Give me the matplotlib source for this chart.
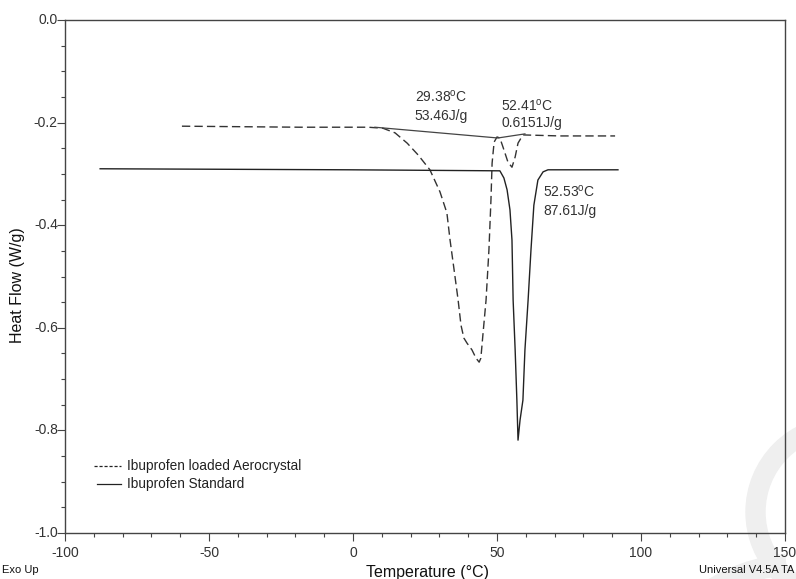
import matplotlib
matplotlib.use("Agg")
import matplotlib.pyplot as plt
from matplotlib.patches import Wedge
from matplotlib.ticker import MultipleLocator

# Ibuprofen loaded Aerocrystal (dashed)
aero_T = [-59.4, -18.4, 5.2, 10.4, 14.6, 18.8, 22.6, 26.7, 30.2, 32.6, 33.7, 35.1, 36.5,
          37.5, 38.5, 39.6, 41.3, 42.7, 43.8, 44.4, 45.1, 46.2, 47.2, 47.9, 48.3, 49.0,
          50.0, 51.0, 52.1, 53.8, 55.2, 56.3, 57.3, 59.0, 71.9, 91.0]
aero_HF = [-0.207, -0.209, -0.209, -0.211, -0.220, -0.240, -0.263, -0.292, -0.335, -0.376,
           -0.429, -0.487, -0.546, -0.595, -0.620, -0.630, -0.643, -0.659, -0.667, -0.659,
           -0.614, -0.546, -0.448, -0.351, -0.279, -0.238, -0.228, -0.230, -0.248, -0.277,
           -0.287, -0.267, -0.240, -0.224, -0.226, -0.226]

# Ibuprofen Standard (solid)
std_T = [-87.8, -1.0, 51.0, 52.4, 53.5, 54.5, 55.2, 55.6, 56.3, 56.9, 57.3, 58.0, 59.0,
         59.7, 60.8, 61.8, 62.8, 64.2, 66.0, 67.7, 92.0]
std_HF = [-0.290, -0.292, -0.294, -0.308, -0.331, -0.370, -0.429, -0.546, -0.643, -0.741,
          -0.819, -0.780, -0.741, -0.643, -0.546, -0.448, -0.361, -0.312, -0.296, -0.292,
          -0.292]

# integration baselines
base_T = [7.6, 50.3, 59.7]
base_HF = [-0.209, -0.230, -0.222]

annotations = [
    (21.5, -0.150, "29.38$^{\\mathregular{o}}$C"),
    (21.5, -0.187, "53.46J/g"),
    (51.5, -0.166, "52.41$^{\\mathregular{o}}$C"),
    (51.5, -0.201, "0.6151J/g"),
    (66.0, -0.334, "52.53$^{\\mathregular{o}}$C"),
    (66.0, -0.373, "87.61J/g"),
]

plt.rcParams['font.family'] = ['Liberation Sans', 'DejaVu Sans']

fig = plt.figure(figsize=(7.96, 5.79), dpi=100)
H = 579

# faint watermark rings (pixel coords, origin bottom-left), behind everything
fig.patches.append(Wedge((842, H - 512), 96, 90, 270, width=19, transform=None,
                         color='#efefef', zorder=-5))
fig.patches.append(Wedge((800, -150), 175, 95, 175, width=20, transform=None,
                         color='#efefef', zorder=-5))

ax = fig.add_axes([65/796, 1-533/579, 720/796, 513/579])
ax.patch.set_alpha(0)
ax.set_zorder(1)

ax.plot(aero_T, aero_HF, color='#333333', lw=1.0, linestyle=(0, (6, 3)))
ax.plot(std_T, std_HF, color='#222222', lw=1.0)
ax.plot(base_T, base_HF, color='#444444', lw=0.9)

for x, y, s in annotations:
    ax.text(x, y, s, fontsize=10, color='#333333', ha='left', va='center')

ax.set_xlim(-100, 150)
ax.set_ylim(-1.0, 0.0)
ax.xaxis.set_major_locator(MultipleLocator(50))
ax.xaxis.set_minor_locator(MultipleLocator(10))
ax.yaxis.set_major_locator(MultipleLocator(0.2))
ax.yaxis.set_minor_locator(MultipleLocator(0.05))
ax.set_xticklabels([])
ax.set_yticklabels([])
for t in range(-100, 151, 50):
    ax.text(t, -1.025, str(t), ha='center', va='top', fontsize=10, color='#333333',
            clip_on=False)
for v in [0.0, -0.2, -0.4, -0.6, -0.8, -1.0]:
    ax.text(-102.5, v, f"{v:.1f}", ha='right', va='center', fontsize=10, color='#333333',
            clip_on=False)

ax.tick_params(axis='both', which='major', direction='out', length=6, width=0.8,
               color='#444444')
ax.tick_params(axis='both', which='minor', direction='out', length=3, width=0.8,
               color='#444444')
ax.tick_params(top=False, right=False)
for sp in ax.spines.values():
    sp.set_color('#444444')
    sp.set_linewidth(1.0)

fig.text(18/796, 1-285/579, "Heat Flow (W/g)", rotation=90, ha='center', va='center',
         fontsize=11.5, color='#111111', zorder=2)
fig.text(427/796, 1-573/579, "Temperature (°C)", ha='center', va='center',
         fontsize=11.5, color='#111111', zorder=2)
fig.text(2/796, 1-570/579, "Exo Up", ha='left', va='center', fontsize=8, color='#111111',
         zorder=2)
fig.text(794/796, 1-570/579, "Universal V4.5A TA", ha='right', va='center', fontsize=8,
         color='#111111', zorder=2)

# legend
ax.plot([-90, -80.5], [-0.869, -0.869], color='#222222', lw=0.9, linestyle=(0, (2.5, 1.5)))
ax.plot([-89, -80.5], [-0.904, -0.904], color='#222222', lw=0.9)
ax.text(-78.5, -0.869, "Ibuprofen loaded Aerocrystal", fontsize=9.8, va='center',
        color='#222222')
ax.text(-78.5, -0.904, "Ibuprofen Standard", fontsize=9.8, va='center', color='#222222')

fig.savefig("out.png", dpi=100)
